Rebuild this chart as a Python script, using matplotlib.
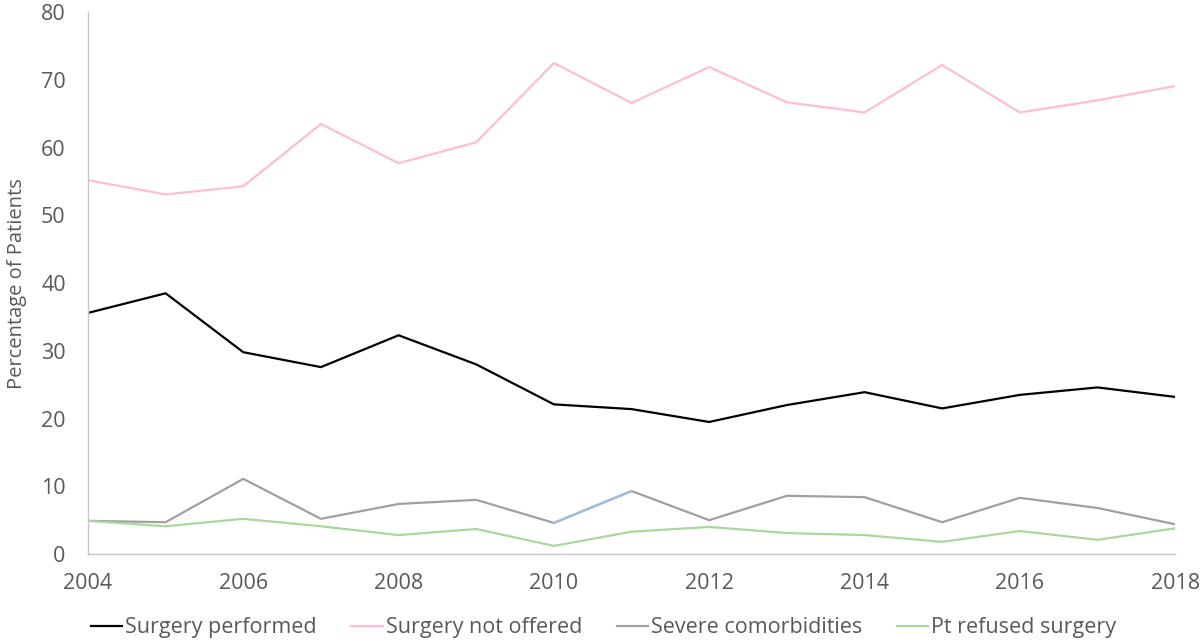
import matplotlib
matplotlib.use("Agg")
import matplotlib.pyplot as plt

years = list(range(2004, 2019))
performed = [35.6, 38.5, 29.8, 27.6, 32.3, 28.0, 22.1, 21.4, 19.5, 22.0, 23.9, 21.5, 23.5, 24.6, 23.2]
not_offered = [55.2, 53.1, 54.3, 63.5, 57.7, 60.8, 72.5, 66.6, 71.9, 66.7, 65.2, 72.2, 65.2, 67.0, 69.1]
comorbid = [4.9, 4.7, 11.1, 5.2, 7.4, 8.0, 4.6, 9.3, 5.0, 8.6, 8.4, 4.7, 8.3, 6.8, 4.4]
refused = [4.9, 4.1, 5.2, 4.1, 2.8, 3.7, 1.2, 3.3, 4.0, 3.1, 2.8, 1.8, 3.4, 2.1, 3.8]
labels = ["Surgery performed", "Surgery not offered", "Severe comorbidities", "Pt refused surgery"]

plt.rcParams['font.family'] = ['Open Sans', 'DejaVu Sans']
txt = '#595959'

fig = plt.figure(figsize=(12, 6.42), dpi=100)
ax = fig.add_axes([0.0733, 0.137, 0.906, 0.844])

ax.plot(years, performed, color='black', lw=1.6, label=labels[0])
ax.plot(years, not_offered, color='#ffbcd9', lw=1.6, label=labels[1])
ax.plot(years, comorbid, color='#a0a0a0', lw=1.6, label=labels[2])
# one segment drawn in light blue in the original
ax.plot(years[6:8], comorbid[6:8], color='#9fbde3', lw=1.6)
ax.plot(years, refused, color='#a9d89c', lw=1.6, label=labels[3])

ax.set_xlim(2004, 2018)
ax.set_ylim(0, 80)
ax.set_xticks(range(2004, 2019, 2))
ax.set_yticks(range(0, 81, 10))
ax.tick_params(length=0, labelsize=15.5, colors=txt)
ax.tick_params(axis='y', pad=16)
ax.tick_params(axis='x', pad=14)
for s in ['top', 'right']:
    ax.spines[s].set_visible(False)
for s in ['left', 'bottom']:
    ax.spines[s].set_color('#c8c8c8')
    ax.spines[s].set_linewidth(1)
ax.set_ylabel("Percentage of Patients", fontsize=14.5, color=txt, labelpad=10)

h, l = ax.get_legend_handles_labels()
fig.legend(h, l, loc='center', bbox_to_anchor=(0.503, 0.022), ncol=4, frameon=False,
           fontsize=15.5, labelcolor=txt, handlelength=1.45, handletextpad=0.15,
           columnspacing=1.6)

fig.savefig("out.png", dpi=100)
